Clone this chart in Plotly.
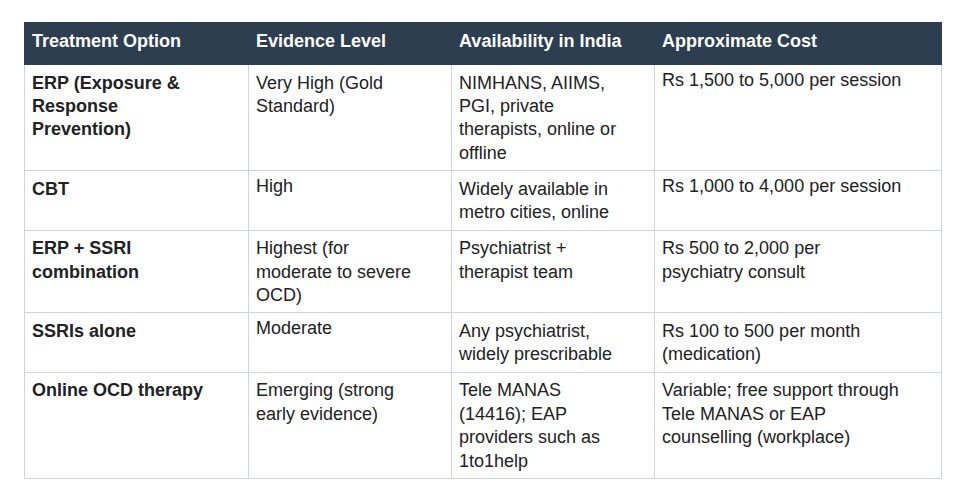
import plotly.graph_objects as go

headers = ["Treatment Option", "Evidence Level", "Availability in India", "Approximate Cost"]
options = ["ERP (Exposure &<br>Response<br>Prevention)", "CBT", "ERP + SSRI<br>combination", "SSRIs alone", "Online OCD therapy"]
evidence = ["Very High (Gold<br>Standard)", "High", "Highest (for<br>moderate to severe<br>OCD)", "Moderate", "Emerging (strong<br>early evidence)"]
availability = ["NIMHANS, AIIMS,<br>PGI, private<br>therapists, online or<br>offline", "Widely available in<br>metro cities, online",
                "Psychiatrist +<br>therapist team", "Any psychiatrist,<br>widely prescribable",
                "Tele MANAS<br>(14416); EAP<br>providers such as<br>1to1help"]
cost = ["Rs 1,500 to 5,000 per session", "Rs 1,000 to 4,000 per session", "Rs 500 to 2,000 per<br>psychiatry consult",
        "Rs 100 to 500 per month<br>(medication)", "Variable; free support through<br>Tele MANAS or EAP<br>counselling (workplace)"]

fig = go.Figure(go.Table(
    domain=dict(x=[0.0165, 0.96], y=[0.0, 0.97]),
    columnwidth=[224, 203, 203, 287],
    header=dict(values=["<b>%s</b>" % h for h in headers], fill_color="#2c3e50",
                font=dict(color="white", size=18, family="Liberation Sans, Arial"),
                align="left", height=42, line=dict(color="#2c3e50", width=1)),
    cells=dict(values=[["<b>%s</b>" % o for o in options], evidence, availability, cost],
               fill_color="white", font=dict(color="#222222", size=18, family="Liberation Sans, Arial"),
               align="left", height=30, line=dict(color="#cfd4d9", width=1)),
))
fig.update_layout(width=972, height=486, margin=dict(l=0, r=0, t=0, b=0), paper_bgcolor="white")
fig.write_html("out.html")
